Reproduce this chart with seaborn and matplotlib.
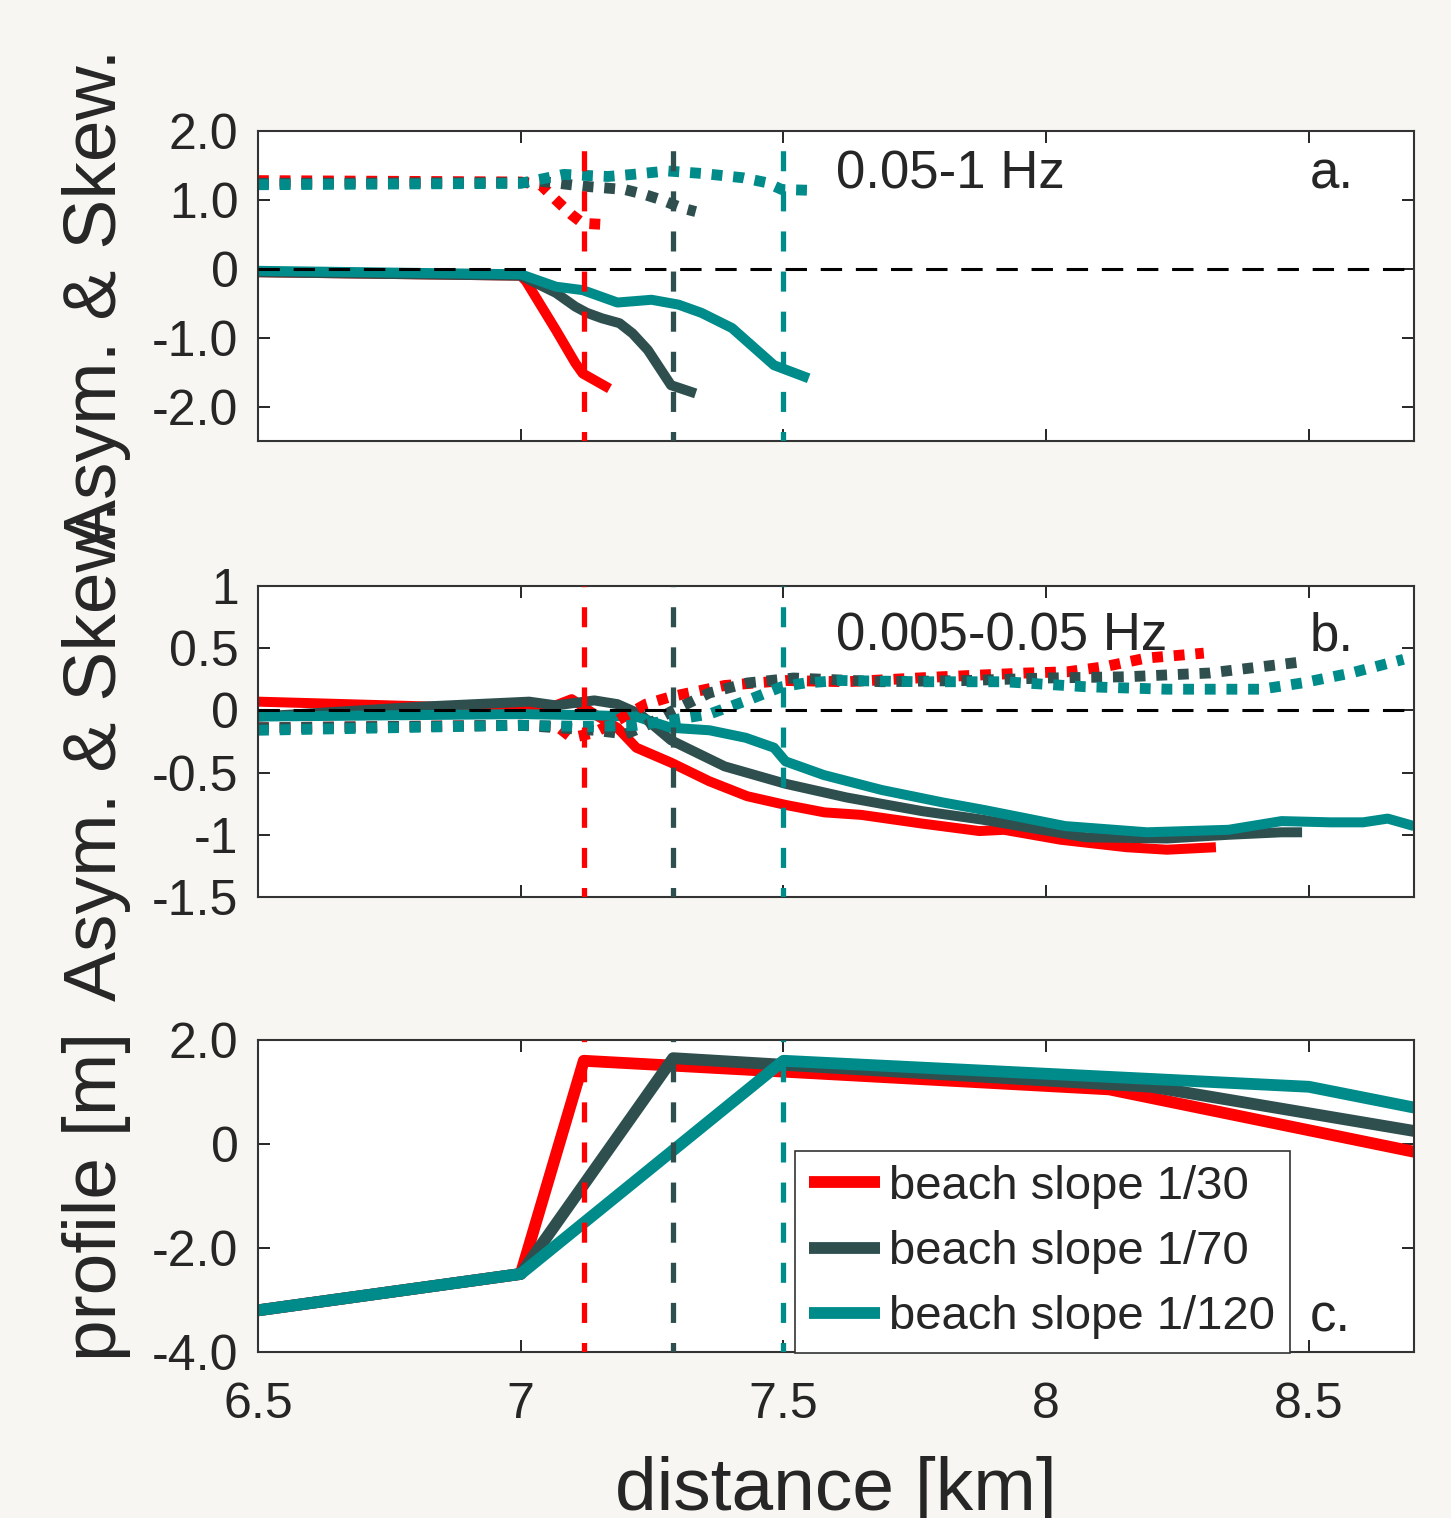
import matplotlib
matplotlib.use("Agg")
import matplotlib.pyplot as plt
import seaborn as sns

# colours per beach slope
c_red = "#ff0000"
c_dark = "#2f4f4f"
c_teal = "#008b8b"

slope_labels = ["beach slope 1/30", "beach slope 1/70", "beach slope 1/120"]
breaker_x = [7.12, 7.29, 7.5]

# panel a: 0.05-1 Hz, asymmetry (solid) and skewness (dotted)
a_asym_red_x = [6.5, 7.0, 7.01, 7.067, 7.104, 7.118, 7.169]
a_asym_red_y = [-0.05, -0.1, -0.18, -0.89, -1.37, -1.52, -1.74]
a_asym_dark_x = [6.5, 7.0, 7.067, 7.104, 7.126, 7.155, 7.188, 7.213, 7.242, 7.286, 7.333]
a_asym_dark_y = [-0.05, -0.1, -0.35, -0.55, -0.64, -0.72, -0.79, -0.94, -1.18, -1.69, -1.81]
a_asym_teal_x = [6.5, 7.0, 7.067, 7.118, 7.184, 7.249, 7.300, 7.344, 7.402, 7.482, 7.548]
a_asym_teal_y = [-0.03, -0.08, -0.26, -0.31, -0.49, -0.45, -0.52, -0.64, -0.86, -1.40, -1.59]

a_skew_red_x = [6.5, 7.0, 7.038, 7.067, 7.096, 7.118, 7.166]
a_skew_red_y = [1.28, 1.26, 1.22, 1.0, 0.79, 0.66, 0.64]
a_skew_dark_x = [6.5, 7.0, 7.038, 7.118, 7.198, 7.235, 7.268, 7.308, 7.333]
a_skew_dark_y = [1.24, 1.25, 1.27, 1.20, 1.15, 1.08, 1.0, 0.88, 0.83]
a_skew_teal_x = [6.5, 7.0, 7.082, 7.166, 7.213, 7.279, 7.351, 7.424, 7.468, 7.497, 7.548]
a_skew_teal_y = [1.22, 1.24, 1.37, 1.34, 1.37, 1.42, 1.38, 1.32, 1.25, 1.15, 1.14]

# panel b: 0.005-0.05 Hz
b_asym_red_x = [6.5, 7.0, 7.06, 7.097, 7.14, 7.184, 7.22, 7.286, 7.359, 7.431, 7.504,
                7.578, 7.648, 7.764, 7.873, 7.92, 8.028, 8.153, 8.23, 8.323]
b_asym_red_y = [0.07, 0.01, 0.03, 0.09, -0.03, -0.14, -0.30, -0.42, -0.57, -0.69, -0.76,
                -0.82, -0.84, -0.91, -0.97, -0.96, -1.04, -1.10, -1.12, -1.10]
b_asym_dark_x = [6.5, 6.812, 7.016, 7.067, 7.14, 7.184, 7.227, 7.286, 7.388, 7.504, 7.62,
                 7.764, 7.881, 8.075, 8.23, 8.347, 8.448, 8.487]
b_asym_dark_y = [-0.05, 0.03, 0.07, 0.04, 0.08, 0.05, -0.03, -0.24, -0.45, -0.59, -0.70,
                 -0.81, -0.88, -1.02, -1.03, -1.00, -0.98, -0.98]
b_asym_teal_x = [6.5, 7.0, 7.14, 7.22, 7.286, 7.359, 7.428, 7.482, 7.504, 7.577, 7.687,
                 7.803, 7.881, 8.036, 8.192, 8.347, 8.448, 8.541, 8.603, 8.65, 8.70]
b_asym_teal_y = [-0.05, -0.03, -0.04, -0.05, -0.14, -0.16, -0.22, -0.30, -0.41, -0.52, -0.64,
                 -0.74, -0.80, -0.93, -0.98, -0.96, -0.89, -0.90, -0.90, -0.87, -0.93]

b_skew_red_x = [6.5, 7.0, 7.07, 7.097, 7.14, 7.184, 7.238, 7.286, 7.388, 7.504, 7.62,
                7.8, 7.96, 8.04, 8.11, 8.19, 8.30]
b_skew_red_y = [-0.14, -0.12, -0.13, -0.22, -0.18, -0.08, 0.05, 0.11, 0.20, 0.24, 0.23,
                0.27, 0.30, 0.31, 0.35, 0.42, 0.46]
b_skew_dark_x = [6.5, 7.0, 7.14, 7.2, 7.235, 7.286, 7.359, 7.431, 7.519, 7.687, 7.85,
                 8.0, 8.153, 8.31, 8.487]
b_skew_dark_y = [-0.14, -0.12, -0.16, -0.19, -0.13, -0.01, 0.14, 0.22, 0.26, 0.23, 0.24,
                 0.26, 0.27, 0.30, 0.39]
b_skew_teal_x = [6.5, 7.0, 7.14, 7.22, 7.286, 7.359, 7.431, 7.497, 7.541, 7.609, 7.764,
                 7.92, 8.075, 8.23, 8.409, 8.487, 8.58, 8.68]
b_skew_teal_y = [-0.16, -0.12, -0.13, -0.12, -0.08, -0.03, 0.08, 0.19, 0.22, 0.24, 0.23,
                 0.23, 0.19, 0.17, 0.17, 0.22, 0.30, 0.41]

# panel c: bed profiles
prof_red_x = [6.5, 7.0, 7.12, 8.12, 8.7]
prof_red_y = [-3.2, -2.5, 1.6, 1.05, -0.15]
prof_dark_x = [6.5, 7.0, 7.29, 8.2, 8.7]
prof_dark_y = [-3.2, -2.5, 1.65, 1.1, 0.25]
prof_teal_x = [6.5, 7.0, 7.5, 8.5, 8.7]
prof_teal_y = [-3.2, -2.5, 1.6, 1.1, 0.7]

x_ticks = [6.5, 7.0, 7.5, 8.0, 8.5]
x_ticklabels = ["6.5", "7", "7.5", "8", "8.5"]
a_ticks = [2, 1, 0, -1, -2]
a_ticklabels = ["2.0", "1.0", "0", "-1.0", "-2.0"]
b_ticks = [1, 0.5, 0, -0.5, -1, -1.5]
b_ticklabels = ["1", "0.5", "0", "-0.5", "-1", "-1.5"]
c_ticks = [2, 0, -2, -4]
c_ticklabels = ["2.0", "0", "-2.0", "-4.0"]

sns.set_style("ticks")
plt.rcParams["font.family"] = ["Liberation Sans", "DejaVu Sans"]
bg = "#f7f6f2"
txt = "#262626"

fig = plt.figure(figsize=(14.51, 15.18), dpi=100, facecolor=bg)
left, width = 0.1778, 0.7967
ax_a = fig.add_axes([left, 0.7095, width, 0.2042])
ax_b = fig.add_axes([left, 0.4091, width, 0.2049])
ax_c = fig.add_axes([left, 0.1094, width, 0.2055])

colors = [c_red, c_dark, c_teal]
solid_lw = 7.2
dot_lw = 7.8
dots = (0, (1, 1))


def draw(ax, xs, ys, ls, lw):
    for x, y, c in zip(xs, ys, colors):
        sns.lineplot(x=x, y=y, ax=ax, color=c, lw=lw, linestyle=ls, sort=False,
                     estimator=None, solid_capstyle="butt", dash_capstyle="butt")


draw(ax_a, [a_skew_red_x, a_skew_dark_x, a_skew_teal_x],
     [a_skew_red_y, a_skew_dark_y, a_skew_teal_y], dots, dot_lw)
draw(ax_a, [a_asym_red_x, a_asym_dark_x, a_asym_teal_x],
     [a_asym_red_y, a_asym_dark_y, a_asym_teal_y], "-", solid_lw)

draw(ax_b, [b_asym_red_x, b_asym_dark_x, b_asym_teal_x],
     [b_asym_red_y, b_asym_dark_y, b_asym_teal_y], "-", solid_lw)
draw(ax_b, [b_skew_red_x, b_skew_dark_x, b_skew_teal_x],
     [b_skew_red_y, b_skew_dark_y, b_skew_teal_y], dots, dot_lw)

for x, y, c, lab in zip([prof_red_x, prof_dark_x, prof_teal_x],
                        [prof_red_y, prof_dark_y, prof_teal_y], colors, slope_labels):
    sns.lineplot(x=x, y=y, ax=ax_c, color=c, lw=8.5, sort=False, estimator=None,
                 label=lab, solid_capstyle="butt")

for ax in (ax_a, ax_b):
    ax.axhline(0, color="black", lw=2.2, linestyle=(0, (7, 4.5)), zorder=5)

for ax in (ax_a, ax_b, ax_c):
    for xv, c in zip(breaker_x, colors):
        ax.axvline(xv, color=c, lw=3.8, linestyle=(2, (3.8, 3.8)), zorder=6)
    ax.set_facecolor("white")
    ax.set_xlim(6.5, 8.7)
    ax.set_xticks(x_ticks)
    ax.tick_params(direction="in", length=8.5, width=1.4, color=txt, labelsize=36,
                   labelcolor=txt, top=True, right=True, pad=14)
    for s in ax.spines.values():
        s.set_color("#333333")
        s.set_linewidth(1.5)
    ax.set_xlabel("")

ax_a.set_xticklabels([])
ax_b.set_xticklabels([])
ax_c.set_xticklabels(x_ticklabels)
ax_c.tick_params(axis="x", pad=22)

ax_a.set_ylim(-2.5, 2.0)
ax_a.set_yticks(a_ticks)
ax_a.set_yticklabels(a_ticklabels)
ax_b.set_ylim(-1.5, 1.0)
ax_b.set_yticks(b_ticks)
ax_b.set_yticklabels(b_ticklabels)
ax_c.set_ylim(-4.0, 2.0)
ax_c.set_yticks(c_ticks)
ax_c.set_yticklabels(c_ticklabels)

ax_a.set_ylabel("Asym. & Skew.", fontsize=54, color=txt)
ax_a.yaxis.set_label_coords(-0.11, 0.46)
ax_b.set_ylabel("Asym. & Skew.", fontsize=54, color=txt)
ax_b.yaxis.set_label_coords(-0.11, 0.47)
ax_c.set_ylabel("profile [m]", fontsize=54, color=txt)
ax_c.yaxis.set_label_coords(-0.11, 0.5)
ax_c.set_xlabel("distance [km]", fontsize=54, color=txt)
ax_c.xaxis.set_label_coords(0.5, -0.335)

ax_a.text(0.5, 0.816, "0.05-1 Hz", transform=ax_a.transAxes, fontsize=38)
ax_a.text(0.91, 0.816, "a.", transform=ax_a.transAxes, fontsize=38)
ax_b.text(0.5, 0.794, "0.005-0.05 Hz", transform=ax_b.transAxes, fontsize=38)
ax_b.text(0.91, 0.794, "b.", transform=ax_b.transAxes, fontsize=38)
ax_c.text(0.91, 0.064, "c.", transform=ax_c.transAxes, fontsize=38)

leg = ax_c.legend(loc="lower left", bbox_to_anchor=(0.4645, -0.005), fontsize=34,
                  frameon=True, fancybox=False, framealpha=1, edgecolor="#333333",
                  handlelength=1.5, handletextpad=0.2, labelspacing=0.45,
                  borderpad=0.3, borderaxespad=0)
leg.get_frame().set_linewidth(1.2)
leg.set_zorder(10)

fig.savefig("out.png", dpi=100, facecolor=bg)
